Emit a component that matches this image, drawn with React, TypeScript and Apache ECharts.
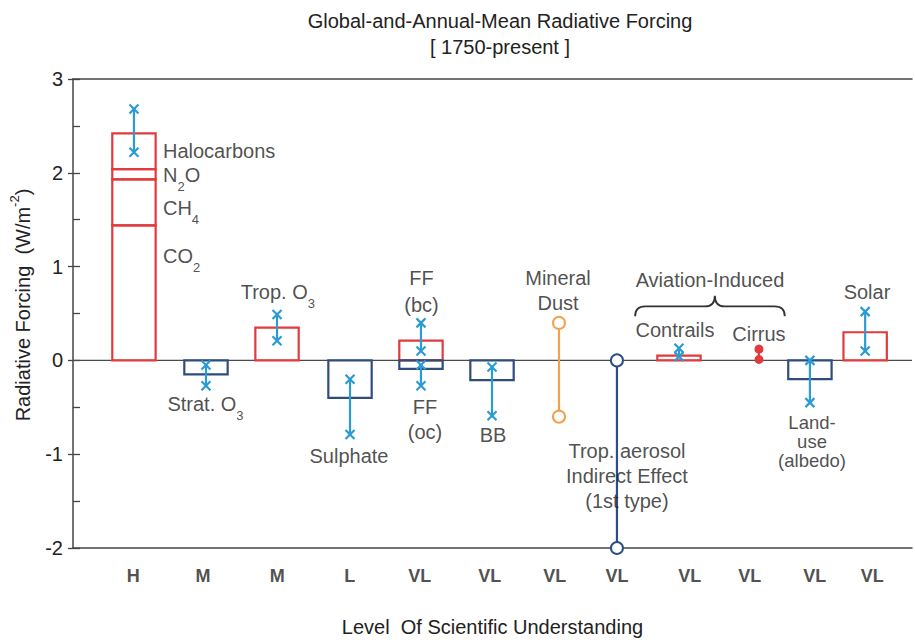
import React, { useEffect, useRef } from 'react';
import * as echarts from 'echarts';

const FONT = '"Liberation Sans", Arial, Helvetica, sans-serif';
const RED = '#e23a3d';
const NAVY = '#2e4c7c';
const SKY = '#2c9bd3';
const ORANGE = '#f2a24f';
const RING_NAVY = '#2c4f8a';
const INK = '#222';

// Level of scientific understanding, one per agent column
const losu = ['H', 'M', 'M', 'L', 'VL', 'VL', 'VL', 'VL', 'VL', 'VL', 'VL', 'VL'];
const losuX = [0.86, 1.86, 2.92, 3.96, 4.96, 5.96, 6.89, 7.78, 8.82, 9.68, 10.61, 11.43];

// column centres on the (hidden) horizontal scale
const slotX = [0.872, 1.902, 2.918, 3.962, 4.977, 5.993, 6.951, 7.78, 8.667, 9.811, 10.54, 11.33];

// well-mixed greenhouse gases, stacked in one column (W/m2)
const ghgNames = ['CO2', 'CH4', 'N2O', 'Halocarbons'];
const ghgForcing = [1.44, 0.49, 0.11, 0.38];
const ghgRange = [2.22, 2.68];

// agents with a best estimate and an uncertainty range (W/m2)
const agentNames = ['Strat. O3', 'Trop. O3', 'Sulphate', 'FF (bc)', 'FF (oc)', 'BB', 'Contrails', 'Land-use (albedo)', 'Solar'];
const agentSlot = [1, 2, 3, 4, 4, 5, 8, 10, 11];
const agentForcing = [-0.15, 0.35, -0.4, 0.21, -0.09, -0.21, 0.05, -0.2, 0.3];
const agentLow = [-0.27, 0.21, -0.79, 0.1, -0.27, -0.59, 0.04, -0.45, 0.1];
const agentHigh = [-0.05, 0.49, -0.2, 0.4, -0.05, -0.07, 0.13, 0.0, 0.52];

// agents given only as a range (W/m2)
const rangeNames = ['Mineral Dust', 'Trop. aerosol Indirect Effect', 'Cirrus'];
const rangeSlot = [6, 7, 9];
const rangeLow = [-0.6, -2.0, 0.01];
const rangeHigh = [0.4, 0.0, 0.12];

// vertical scale
const yMin = -2;
const yMax = 3;
const yStep = 1;

// annotation placement (scale units)
const BOX_HALF = 0.31;
const braceSpan = [8.04, 10.18, 9.18];
const braceLevels = [0.47, 0.575, 0.69];

const rich = {
  n: { fontSize: 20, lineHeight: 36, fontFamily: FONT, color: INK },
  s: { fontSize: 13, lineHeight: 20, verticalAlign: 'bottom', fontFamily: FONT, color: INK },
};

type Note = { text: string; x: number; y: number; left?: boolean; lh?: number; size?: number };
const notes: Note[] = [
  { text: '{n|Halocarbons}', x: 1.287, y: 2.23, left: true },
  { text: '{n|N}{s|2}{n|O}', x: 1.287, y: 1.98, left: true },
  { text: '{n|CH}{s|4}', x: 1.287, y: 1.62, left: true },
  { text: '{n|CO}{s|2}', x: 1.287, y: 1.115, left: true },
  { text: '{n|Trop. O}{s|3}', x: 2.93, y: 0.73 },
  { text: '{n|Strat. O}{s|3}', x: 1.895, y: -0.47 },
  { text: 'Sulphate', x: 3.947, y: -1.02 },
  { text: 'FF\n(bc)', x: 4.984, y: 0.734, lh: 27 },
  { text: 'FF\n(oc)', x: 5.034, y: -0.63, lh: 25 },
  { text: 'BB', x: 6.007, y: -0.79 },
  { text: 'Mineral\nDust', x: 6.937, y: 0.745, lh: 25 },
  { text: 'Trop. aerosol\nIndirect Effect\n(1st type)', x: 7.923, y: -1.23, lh: 25 },
  { text: 'Aviation-Induced', x: 9.11, y: 0.854 },
  { text: 'Contrails', x: 8.61, y: 0.323 },
  { text: 'Cirrus', x: 9.811, y: 0.281 },
  { text: 'Land-\nuse\n(albedo)', x: 10.57, y: -0.865, lh: 19, size: 18.5 },
  { text: 'Solar', x: 11.356, y: 0.729 },
];

function buildOption() {
  // outlined boxes: [x, from, to, colour index]
  const boxes: number[][] = [];
  let base = 0;
  ghgForcing.forEach((v) => {
    boxes.push([slotX[0], base, base + v, 0]);
    base += v;
  });
  agentForcing.forEach((v, i) => boxes.push([slotX[agentSlot[i]], 0, v, v >= 0 ? 0 : 1]));

  // uncertainty bars: [x, low, high]
  const bars: number[][] = [[slotX[0], ghgRange[0], ghgRange[1]]];
  agentLow.forEach((lo, i) => bars.push([slotX[agentSlot[i]], lo, agentHigh[i]]));

  // range-only agents: [x, low, high, kind]
  const ranges = rangeLow.map((lo, i) => [slotX[rangeSlot[i]], lo, rangeHigh[i], i]);

  const noteData = notes.map((n) => ({
    value: [n.x, n.y],
    label: {
      show: true,
      position: n.left ? 'right' : 'inside',
      distance: 0,
      align: n.left ? 'left' : 'center',
      verticalAlign: 'middle',
      formatter: n.text,
      fontSize: n.size || 20,
      fontFamily: FONT,
      color: INK,
      lineHeight: n.lh || 24,
      rich,
    },
  }));

  const losuData = losu.map((t, i) => ({ value: [losuX[i], yMin - 0.3], name: t }));

  return {
    animation: false,
    backgroundColor: '#fff',
    title: {
      text: 'Global-and-Annual-Mean Radiative Forcing\n[ 1750-present ]',
      left: 500,
      top: 8,
      padding: 0,
      textAlign: 'center',
      textStyle: { fontSize: 20, fontWeight: 'normal', color: INK, fontFamily: FONT, lineHeight: 26 },
    },
    grid: { left: 73, right: 3, top: 79, bottom: 83, containLabel: false },
    xAxis: [
      {
        type: 'value',
        min: 0,
        max: 12,
        position: 'bottom',
        axisLine: { show: true, onZero: false, lineStyle: { color: '#444', width: 1.5 } },
        axisTick: { show: false },
        axisLabel: { show: false },
        splitLine: { show: false },
        name: 'Level  Of Scientific Understanding',
        nameLocation: 'middle',
        nameGap: 69,
        nameTextStyle: { fontSize: 20, color: INK, fontFamily: FONT },
      },
      {
        type: 'value',
        min: 0,
        max: 12,
        position: 'top',
        axisLine: { show: true, onZero: false, lineStyle: { color: '#444', width: 1.5 } },
        axisTick: { show: false },
        axisLabel: { show: false },
        splitLine: { show: false },
      },
    ],
    yAxis: [
      {
        type: 'value',
        min: yMin,
        max: yMax,
        interval: yStep,
        position: 'left',
        axisLine: { show: true, lineStyle: { color: '#444', width: 1.5 } },
        axisTick: { show: true, inside: true, length: 7, lineStyle: { color: '#444', width: 1.3 } },
        minorTick: { show: true, splitNumber: 2, length: 7, lineStyle: { color: '#444', width: 1.3 } },
        axisLabel: { fontSize: 20, color: INK, fontFamily: FONT, margin: 10 },
        splitLine: { show: false },
      },
      {
        type: 'value',
        min: yMin,
        max: yMax,
        interval: yStep,
        position: 'right',
        axisLine: { show: false },
        axisTick: { show: true, inside: true, length: 5, lineStyle: { color: '#444', width: 1.3 } },
        axisLabel: { show: false },
        splitLine: { show: false },
      },
    ],
    graphic: [
      {
        type: 'text',
        x: 23,
        y: 305,
        rotation: Math.PI / 2,
        style: {
          text: '{n|Radiative Forcing  (W/m}{p|-2}{n|)}',
          align: 'center',
          verticalAlign: 'middle',
          rich: {
            n: { fontSize: 20, lineHeight: 30, fontFamily: FONT, fill: INK, color: INK },
            p: { fontSize: 13, lineHeight: 14, verticalAlign: 'top', fontFamily: FONT, fill: INK, color: INK },
          },
        },
      },
    ],
    series: [
      {
        name: 'zero',
        type: 'custom',
        data: [[0, 0]],
        silent: true,
        renderItem: (params: any, api: any) => {
          const cs = params.coordSys;
          const y = api.coord([0, 0])[1];
          return {
            type: 'line',
            shape: { x1: cs.x, y1: y, x2: cs.x + cs.width, y2: y },
            style: { stroke: '#4a4a4a', lineWidth: 1.4 },
          };
        },
      },
      {
        name: 'notes',
        type: 'scatter',
        symbolSize: 0,
        itemStyle: { color: 'rgba(0,0,0,0)' },
        silent: true,
        data: noteData,
      },
      {
        name: 'losu',
        type: 'scatter',
        symbolSize: 0,
        clip: false,
        itemStyle: { color: 'rgba(0,0,0,0)' },
        silent: true,
        label: {
          show: true,
          position: 'inside',
          formatter: (p: any) => p.name,
          fontSize: 18,
          fontWeight: 'bold',
          fontFamily: FONT,
          color: INK,
        },
        data: losuData,
      },
      {
        name: 'boxes',
        type: 'custom',
        data: boxes,
        silent: true,
        renderItem: (params: any, api: any) => {
          const x = api.value(0);
          const a = api.coord([x - BOX_HALF, api.value(1)]);
          const b = api.coord([x + BOX_HALF, api.value(2)]);
          return {
            type: 'rect',
            shape: { x: a[0], y: Math.min(a[1], b[1]), width: b[0] - a[0], height: Math.abs(b[1] - a[1]) },
            style: { fill: 'none', stroke: api.value(3) === 0 ? RED : NAVY, lineWidth: 2.2 },
          };
        },
      },
      {
        name: 'uncertainty',
        type: 'custom',
        data: bars,
        silent: true,
        renderItem: (params: any, api: any) => {
          const x = api.value(0);
          const p = api.coord([x, api.value(1)]);
          const q = api.coord([x, api.value(2)]);
          const s = 4.5;
          const st = { stroke: SKY, lineWidth: 2.2 };
          const cross = (c: number[]) => [
            { type: 'line', shape: { x1: c[0] - s, y1: c[1] - s, x2: c[0] + s, y2: c[1] + s }, style: st },
            { type: 'line', shape: { x1: c[0] - s, y1: c[1] + s, x2: c[0] + s, y2: c[1] - s }, style: st },
          ];
          return {
            type: 'group',
            children: [
              { type: 'line', shape: { x1: p[0], y1: p[1], x2: q[0], y2: q[1] }, style: st },
              ...cross(p),
              ...cross(q),
            ],
          };
        },
      },
      {
        name: 'ranges',
        type: 'custom',
        data: ranges,
        silent: true,
        renderItem: (params: any, api: any) => {
          const x = api.value(0);
          const kind = api.value(3);
          const p = api.coord([x, api.value(1)]);
          const q = api.coord([x, api.value(2)]);
          const color = kind === 0 ? ORANGE : kind === 1 ? RING_NAVY : RED;
          const filled = kind === 2;
          const r = filled ? 3.5 : 6;
          const end = (c: number[]) => ({
            type: 'circle',
            shape: { cx: c[0], cy: c[1], r },
            style: { fill: filled ? color : '#fff', stroke: color, lineWidth: 2 },
          });
          return {
            type: 'group',
            children: [
              { type: 'line', shape: { x1: p[0], y1: p[1], x2: q[0], y2: q[1] }, style: { stroke: color, lineWidth: 2.2 } },
              end(p),
              end(q),
            ],
          };
        },
      },
      {
        name: 'brace',
        type: 'custom',
        data: [[braceSpan[0], braceSpan[1]]],
        silent: true,
        renderItem: (params: any, api: any) => {
          const l = api.coord([braceSpan[0], braceLevels[0]]);
          const r = api.coord([braceSpan[1], braceLevels[0]]);
          const m = api.coord([braceSpan[2], braceLevels[2]]);
          const yh = api.coord([braceSpan[0], braceLevels[1]])[1];
          const k = 10;
          const d =
            `M ${l[0]} ${l[1]} Q ${l[0]} ${yh} ${l[0] + k} ${yh} L ${m[0] - k} ${yh} Q ${m[0]} ${yh} ${m[0]} ${m[1]} ` +
            `Q ${m[0]} ${yh} ${m[0] + k} ${yh} L ${r[0] - k} ${yh} Q ${r[0]} ${yh} ${r[0]} ${r[1]}`;
          return {
            type: 'path',
            shape: { pathData: d },
            style: { fill: 'none', stroke: '#333', lineWidth: 1.8 },
          };
        },
      },
    ],
  };
}

export default function App() {
  const ref = useRef<HTMLDivElement>(null);
  useEffect(() => {
    document.body.style.margin = '0';
    const chart = echarts.init(ref.current!, null, { renderer: 'svg' });
    chart.setOption(buildOption() as any);
    return () => chart.dispose();
  }, []);
  return <div ref={ref} style={{ width: 915, height: 642 }} />;
}
